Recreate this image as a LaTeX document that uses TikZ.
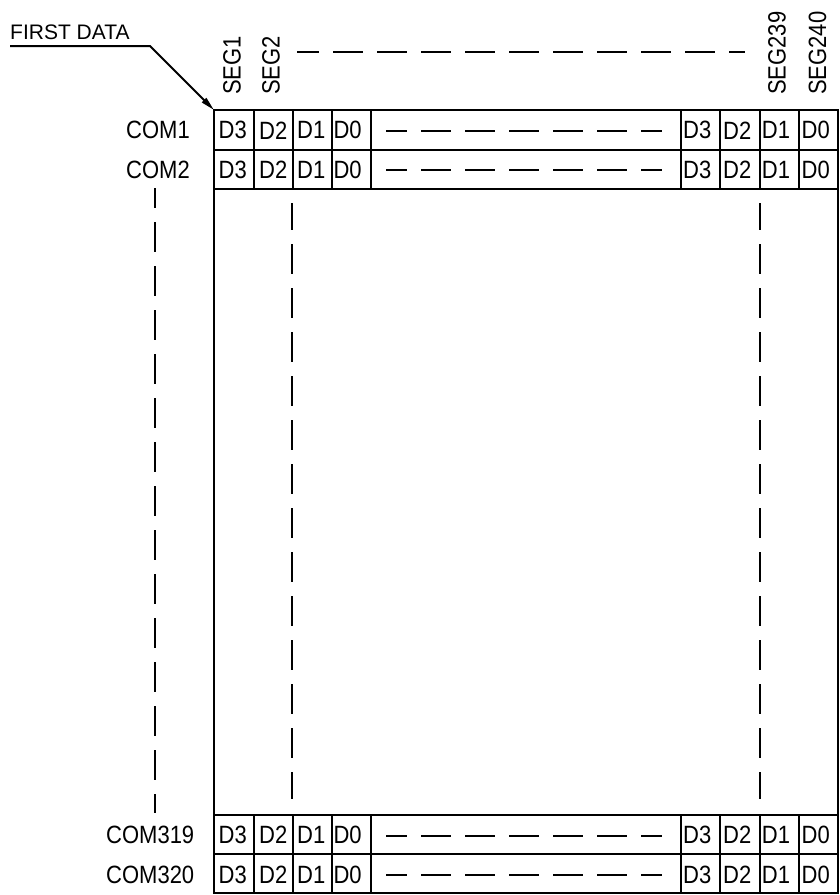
\documentclass[tikz,border=0pt]{standalone}
\usepackage{fontspec}
\setmainfont{Liberation Sans}[FakeStretch=0.88]
\newfontfamily\widefont{Liberation Sans}[FakeStretch=1.0]
\usetikzlibrary{arrows.meta}
\begin{document}
\begin{tikzpicture}[x=1pt,y=-1pt,
  gridline/.style={line width=2pt},
  dashline/.style={line width=2pt,dash pattern=on 30pt off 14pt},
  lbl/.style={inner sep=0pt,font=\fontsize{25}{29}\selectfont},
  fdlbl/.style={inner sep=0pt,font=\widefont\fontsize{21}{25}\selectfont},
  seglbl/.style={lbl,rotate=90,anchor=west}]
\useasboundingbox (0,0) rectangle (839,895);
% grid corners
\coordinate (tl) at (214,110);
\coordinate (br) at (837.5,893.3);
\draw[gridline] (tl) rectangle (br);
% horizontal lines
\foreach \y in {149.5,188.7,814.7,854} {
  \draw[gridline] (214,\y) -- (837.5,\y);
}
% cell dividers
\foreach \x in {253.5,292.6,331.8,370.9,680.7,719.9,759.6,798.5} {
  \draw[gridline] (\x,110) -- (\x,188.7);
  \draw[gridline] (\x,814.7) -- (\x,893.3);
}
% cell labels and row dashes
\foreach \r/\y in {1/130.3,2/169.6,3/835.2,4/874.5} {
  \foreach \c/\x/\t in {1/218.5/D3,2/259/D2,3/297/D1,4/333.3/D0,5/683/D3,6/723/D2,7/761.7/D1,8/801.5/D0} {
    \node[lbl,anchor=west] (d\r-\c) at (\x,\y) {\t};
  }
  \coordinate (h\r a) at (386,\y+0.7);
  \coordinate (h\r b) at (662,\y+0.7);
  \draw[dashline,dash phase=9pt] (h\r a) -- (h\r b);
}
% COM labels
\node[lbl,anchor=west] (com1) at (126,130.3) {COM1};
\node[lbl,anchor=west] (com2) at (126,169.6) {COM2};
\node[lbl,anchor=west] (com319) at (106,835.2) {COM319};
\node[lbl,anchor=west] (com320) at (106,874.5) {COM320};
% SEG labels
\node[seglbl] (seg1) at (232,95) {SEG1};
\node[seglbl] (seg2) at (271,95) {SEG2};
\node[seglbl] (seg239) at (777,95) {SEG239};
\node[seglbl] (seg240) at (817.5,95) {SEG240};
% top dashes
\coordinate (ta) at (297,51.7);
\coordinate (tb) at (745,51.7);
\draw[dashline,dash phase=8pt] (ta) -- (tb);
% vertical dashes
\coordinate (va) at (155,188);
\coordinate (vb) at (155,813);
\draw[dashline,dash phase=10pt] (va) -- (vb);
\coordinate (ia) at (292.4,203);
\coordinate (ib) at (292.4,799);
\draw[dashline,dash phase=3pt] (ia) -- (ib);
\coordinate (ja) at (759.8,203);
\coordinate (jb) at (759.8,799);
\draw[dashline,dash phase=3pt] (ja) -- (jb);
% FIRST DATA pointer
\node[fdlbl,anchor=west] (fd) at (10,32) {FIRST DATA};
\coordinate (ul0) at (10,46);
\coordinate (ul1) at (150,46);
\draw[line width=2pt,-{Triangle[length=14pt,width=6pt]}] (ul0) -- (ul1) -- (tl);
\end{tikzpicture}
\end{document}
